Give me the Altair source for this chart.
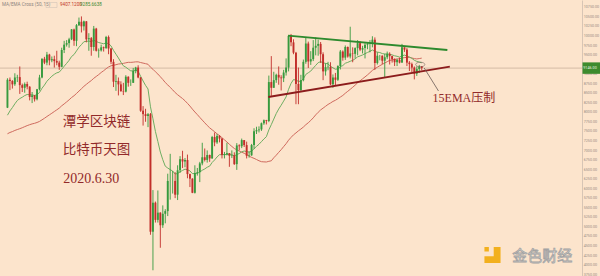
import altair as alt
import numpy as np
import pandas as pd

# ---- BTC/USD daily candles, 2020-01-14 .. 2020-06-30 ----
# closes before the first drawn candle (2019-11-26 .. 2020-01-13), used to seed the averages
warmup_close = [7150, 7520, 7420, 7740, 7560,
                7400, 7300, 7300, 7190, 7390, 7540, 7510, 7520, 7340, 7220, 7200, 7190, 7250, 7070, 7110, 6880,
                6620, 7280, 7150, 7190, 7140, 7510, 7320, 7250, 7200, 7200, 7250, 7310, 7390, 7220, 7170,
                7180, 6950, 7340, 7350, 7350, 7760, 8150, 8050, 7820, 8200, 8020, 8180, 8110]

opens = [8110, 8840, 8810, 8720, 8900, 8910, 8700, 8630, 8730, 8660, 8390, 8430, 8330, 8590, 8900, 9390, 9290, 9500,
         9350, 9380, 9330, 9290, 9180, 9620, 9760, 9800, 9900, 10160, 9860, 10270, 10360, 10240, 10370, 9900, 9930,
         9700, 10180, 9600, 9610, 9690, 9670, 9960, 9660, 9310, 8790, 8810, 8720, 8540, 8530, 8920, 8760, 8760, 9070,
         9160, 8900, 8030, 7940, 7890, 7940, 4860, 5620, 5170, 5360, 5030, 5330, 5400, 6190, 6190, 6190, 5830, 6470,
         6760, 6700, 6740, 6370, 6250, 5880, 6400, 6420, 6650, 6810, 6740, 6870, 6780, 7340, 7200, 7370, 7300, 6870,
         6890, 6920, 6850, 6860, 6630, 7120, 7100, 7260, 7130, 6850, 6860, 7130, 7490, 7520, 7540, 7700, 7780, 7760,
         8780, 8630, 8830, 8970, 8900, 8880, 9030, 9160, 9990, 9820, 9550, 8730, 8570, 8830, 9310, 9790, 9320, 9380,
         9680, 9730, 9780, 9510, 9060, 9170, 9180, 8720, 8900, 8840, 9200, 9580, 9420, 9700, 9450, 9530, 9520, 9670,
         9800, 9630, 9670, 9760, 9780, 9780, 9890, 9280, 9470, 9470, 9340, 9430, 9520, 9460, 9380, 9300, 9360, 9290,
         9690, 9630, 9290, 9250, 9160, 9000, 9120, 9190]
highs = [8880, 8900, 8830, 9010, 8970, 9190, 8740, 8770, 8790, 8670, 8520, 8440, 8600, 8970, 9400, 9440, 9570, 9520,
         9450, 9470, 9600, 9340, 9680, 9860, 9880, 9940, 10170, 10180, 10300, 10470, 10500, 10390, 10380, 10060, 9960,
         10250, 10200, 9660, 9760, 9710, 9990, 10000, 9670, 9380, 8970, 8900, 8800, 8760, 8960, 8930, 8850, 9150, 9180,
         9220, 8910, 8150, 8080, 7970, 7970, 5950, 5650, 5940, 5370, 5550, 5450, 6380, 6900, 6450, 6420, 6600, 6840,
         6980, 6790, 6880, 6380, 6260, 6600, 6530, 6690, 7190, 7040, 6990, 6880, 7370, 7460, 7420, 7390, 7310, 6950,
         7190, 6920, 6990, 6940, 7180, 7150, 7300, 7260, 7220, 6960, 7160, 7570, 7610, 7620, 7720, 7800, 7790, 8950,
         9460, 9050, 9000, 9190, 8960, 9100, 9400, 9990, 10040, 9900, 9570, 9160, 8970, 9370, 9940, 9840, 9590, 9880,
         9950, 9890, 9830, 9560, 9270, 9310, 9300, 8980, 9020, 9220, 9620, 9610, 9740, 9710, 10230, 9690, 9690, 9880,
         9850, 9730, 9800, 9800, 9880, 9980, 9950, 9560, 9490, 9480, 9520, 9580, 9560, 9470, 9400, 9390, 9420, 9780,
         9690, 9670, 9330, 9290, 9190, 9190, 9230, 9200]
lows = [8100, 8570, 8610, 8680, 8780, 8470, 8520, 8500, 8590, 8300, 8230, 8270, 8300, 8560, 8880, 9250, 9220, 9220,
        9300, 9160, 9220, 9100, 9170, 9540, 9710, 9680, 9880, 9730, 9720, 10250, 10080, 10130, 9820, 9600, 9470, 9600,
        9580, 9420, 9580, 9580, 9650, 9510, 9250, 8650, 8550, 8430, 8530, 8440, 8510, 8660, 8680, 8760, 9010, 8880,
        8000, 7640, 7740, 7600, 4780, 3850, 5100, 5100, 4440, 4960, 5080, 5270, 5700, 5860, 5740, 5690, 6400, 6530,
        6550, 6260, 6030, 5870, 5860, 6330, 6160, 6600, 6700, 6670, 6690, 6770, 7100, 7160, 7200, 6780, 6780, 6860,
        6560, 6790, 6610, 6480, 6990, 7050, 7080, 6780, 6800, 6850, 7030, 7420, 7460, 7500, 7660, 7670, 7730, 8420,
        8630, 8760, 8710, 8560, 8780, 8950, 9060, 9720, 9510, 8200, 8200, 8550, 8800, 9260, 9150, 9230, 9330, 9480,
        9470, 9280, 8830, 8950, 9090, 8700, 8630, 8700, 8810, 9110, 9340, 9360, 9420, 9400, 9300, 9400, 9480, 9590,
        9530, 9400, 9640, 9560, 9690, 9100, 9240, 9350, 9250, 8900, 9380, 9240, 9290, 9200, 9200, 9270, 9280, 9570,
        9200, 9070, 9040, 8850, 8940, 9020, 9090]
closes = [8840, 8810, 8720, 8900, 8910, 8700, 8630, 8730, 8660, 8390, 8430, 8330, 8590, 8900, 9390, 9290, 9500, 9350,
          9380, 9330, 9290, 9180, 9620, 9760, 9800, 9900, 10160, 9860, 10270, 10360, 10240, 10370, 9900, 9930, 9700,
          10180, 9600, 9610, 9690, 9670, 9960, 9660, 9310, 8790, 8810, 8720, 8540, 8530, 8920, 8760, 8760, 9070, 9160,
          8900, 8030, 7940, 7890, 7940, 4860, 5620, 5170, 5360, 5030, 5330, 5400, 6190, 6190, 6190, 5830, 6470, 6760,
          6700, 6740, 6370, 6250, 5880, 6400, 6420, 6650, 6810, 6740, 6870, 6780, 7340, 7200, 7370, 7300, 6870, 6890,
          6920, 6850, 6860, 6630, 7120, 7100, 7260, 7130, 6850, 6860, 7130, 7490, 7520, 7540, 7700, 7780, 7760, 8780,
          8630, 8830, 8970, 8900, 8880, 9030, 9160, 9990, 9820, 9550, 8730, 8570, 8830, 9310, 9790, 9320, 9380, 9680,
          9730, 9780, 9510, 9060, 9170, 9180, 8720, 8900, 8840, 9200, 9580, 9420, 9700, 9450, 9530, 9520, 9670, 9800,
          9630, 9670, 9760, 9780, 9780, 9890, 9280, 9470, 9470, 9340, 9430, 9520, 9460, 9380, 9300, 9360, 9290, 9690,
          9630, 9290, 9250, 9160, 9000, 9120, 9190, 9146]

# hand-drawn triangle: (day index, price) end points
top_line_day = [113.8, 178.4]
top_line_price = [9995, 9620]
bottom_line_day = [105.8, 179.4]
bottom_line_price = [8389, 9183]

BG = "#fce4cc"
UP = "#379a3e"
DOWN = "#c22e2a"
SMA_COLOR = "#cf6a5e"
EMA_COLOR = "#6fae62"
NOTE_RED = "#922a2a"

# ---- indicators: SMA(50) and EMA(15) of the close ----
all_close = pd.Series(warmup_close + closes, dtype=float)
n_warm = len(warmup_close)
sma50 = all_close.rolling(50).mean().iloc[n_warm:].to_numpy()
ema15 = all_close.ewm(span=15, adjust=False).mean().iloc[n_warm:].to_numpy()

df = pd.DataFrame({
    "day": np.arange(len(closes)),
    "open": opens, "high": highs, "low": lows, "close": closes,
    "sma": sma50, "ema": ema15,
})
df["dir"] = np.where(df["close"] >= df["open"], "up", "down")

last_close = closes[-1]

price_axis = alt.Axis(orient="right", values=list(range(3750, 10751, 250)), format=".2f",
                      labelFontSize=3.7, labelColor="#9a8d84", labelFont="Roboto", ticks=False,
                      grid=False, domainColor="#cdbcae", domainWidth=0.8, labelPadding=1.2,
                      title=None, labelFlush=False)

xs = alt.Scale(domain=[-0.996, 230.97], nice=False, zero=False)
ys = alt.Scale(domain=[3700, 10930], nice=False, zero=False)
X = lambda f: alt.X(f, type="quantitative", scale=xs, axis=None)
Y = lambda f: alt.Y(f, type="quantitative", scale=ys, axis=price_axis)
col = alt.Color("dir:N", scale=alt.Scale(domain=["up", "down"], range=[UP, DOWN]), legend=None)

base = alt.Chart(df)

price_line = alt.Chart(pd.DataFrame({"p": [last_close]})).mark_rule(
    color="#cbb29c", strokeWidth=0.8).encode(y=Y("p"))

wicks = base.mark_rule(strokeWidth=0.9).encode(x=X("day"), y=Y("low"), y2="high", color=col)
bodies = base.mark_bar(size=1.9).encode(x=X("day"), y=Y("open"), y2="close", color=col)

sma_line = base.mark_line(color=SMA_COLOR, strokeWidth=1).encode(x=X("day"), y=Y("sma"))
ema_line = base.mark_line(color=EMA_COLOR, strokeWidth=1).encode(x=X("day"), y=Y("ema"))

top_df = pd.DataFrame({"day": top_line_day, "p": top_line_price})
bot_df = pd.DataFrame({"day": bottom_line_day, "p": bottom_line_price})
top_tl = alt.Chart(top_df).mark_line(color="#2e8a2e", strokeWidth=1.8).encode(x=X("day"), y=Y("p"))
bot_tl = alt.Chart(bot_df).mark_line(color="#8c1c1c", strokeWidth=1.8).encode(x=X("day"), y=Y("p"))

# annotation: small ellipse on the last candles, a pointer and the note
ellipse_path = "M-1,0 A1,0.5 0 1,0 1,0 A1,0.5 0 1,0 -1,0 Z"
ring = alt.Chart(pd.DataFrame({"day": [167.4], "p": [9240]})).mark_point(
    shape=ellipse_path, size=85, filled=False, color="#6a5a55", strokeWidth=0.8).encode(x=X("day"), y=Y("p"))
pointer = alt.Chart(pd.DataFrame({"day": [169.0, 174.8], "p": [9149, 8546]})).mark_line(
    color="#6a5a55", strokeWidth=0.8).encode(x=X("day"), y=Y("p"))
note = alt.Chart(pd.DataFrame({"day": [172.4], "p": [8363], "t": ["15EMA压制"]})).mark_text(
    align="left", baseline="middle", font="Liberation Serif, Noto Sans CJK SC", fontSize=12,
    color=NOTE_RED).encode(x=X("day"), y=Y("p"), text="t:N")

titles_cn = alt.Chart(pd.DataFrame({
    "day": [22.4, 22.4], "p": [7734, 7001], "t": ["潭学区块链", "比特币天图"],
})).mark_text(align="left", baseline="middle", fontSize=13.5, color=NOTE_RED, font="Noto Sans CJK SC").encode(
    x=X("day"), y=Y("p"), text="t:N")
title_date = alt.Chart(pd.DataFrame({"day": [22.6], "p": [6241], "t": ["2020.6.30"]})).mark_text(
    align="left", baseline="middle", fontSize=14, color=NOTE_RED, font="Liberation Serif").encode(
    x=X("day"), y=Y("p"), text="t:N")

# watermark in the lower right corner
logo_path = ("M0.15,-1 L1,-1 L1,1 L-1,1 L-1,0.15 L0.15,0.15 Z "
             "M-1,-1 L-0.45,-1 L-0.45,-0.45 L-1,-0.45 Z")
logo = alt.Chart(pd.DataFrame({"day": [196.7], "p": [4250]})).mark_point(
    shape=logo_path, size=260, filled=True, color="#f2b01e", opacity=1).encode(x=X("day"), y=Y("p"))
mark_txt = alt.Chart(pd.DataFrame({"day": [204.7], "p": [4224], "t": ["金色财经"]})).mark_text(
    align="left", baseline="middle", font="Noto Sans CJK SC", fontSize=15, fill="#f7f2ee",
    stroke="#a3a3a3", strokeWidth=0.8).encode(x=X("day"), y=Y("p"), text="t:N")

# last price tag on the price scale
tag_df = pd.DataFrame({"p1": [last_close + 150], "p2": [last_close - 150], "p": [last_close],
                       "t": [f"{last_close:.2f}"]})
tag = alt.Chart(tag_df).mark_rect(color="#3d8b2e").encode(
    x=alt.value(582.5), x2=alt.value(600), y=Y("p1"), y2="p2")
tag_txt = alt.Chart(tag_df).mark_text(align="left", baseline="middle", fontSize=3.7, color="#eaf6e0",
                                      font="Roboto").encode(x=alt.value(583.3), y=Y("p"), text="t:N")

# indicator caption in the upper left corner
cap_df = pd.DataFrame({
    "x": [2, 60, 80],
    "t": ["MA/EMA Cross (50, 15)", f"{sma50[-1]:.4f}", f"{ema15[-1]:.4f}"],
    "c": ["#8e8580", "#c0392b", "#3b8a2f"],
})
caption = alt.Chart(cap_df).mark_text(align="left", baseline="middle", fontSize=4.6, font="Roboto").encode(
    x=alt.X("x:Q", scale=None, axis=None), y=alt.value(5), text="t:N",
    color=alt.Color("c:N", scale=None, legend=None))
cap_box = alt.Chart(pd.DataFrame({"x": [46], "x2": [57]})).mark_rect(
    fill=None, stroke="#d2c4b8", strokeWidth=0.6).encode(
    x=alt.X("x:Q", scale=None, axis=None), x2="x2", y=alt.value(2.5), y2=alt.value(7.5))

chart = alt.layer(
    price_line, sma_line, ema_line, wicks, bodies, top_tl, bot_tl,
    ring, pointer, note, titles_cn, title_date, logo, mark_txt, tag, tag_txt, caption, cap_box,
).properties(
    width=582, height=276, background=BG,
    padding={"left": 0, "top": 0, "right": 18, "bottom": 0},
    autosize=alt.AutoSizeParams(type="none"),
).configure_view(stroke=None, fill=BG)

chart.save("out.html", embed_options={"renderer": "svg", "actions": False})
